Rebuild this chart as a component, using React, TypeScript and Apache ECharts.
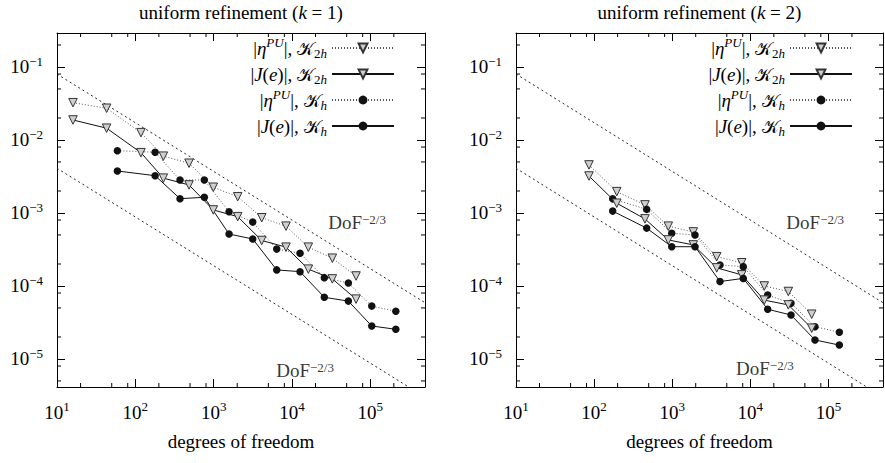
import React, { useEffect, useRef } from 'react';
import * as echarts from 'echarts';

const SERIF = '"Liberation Serif", "Times New Roman", "DejaVu Serif", serif';
const SCRIPT = '"DejaVu Serif", "DejaVu Sans", "Noto Sans", serif';

// ---------- data: left panel, uniform refinement (k = 1) ----------
const k1TriDof = [16, 43, 118, 228, 485, 991, 2030, 4115, 8400, 16200, 32800, 65900];
const k1EtaCoarse = [0.0324, 0.0272, 0.0126, 0.006, 0.0048, 0.00225, 0.00167, 8.6e-4, 6.6e-4, 3.4e-4, 2.4e-4, 1.37e-4];
const k1JCoarse = [0.0188, 0.0145, 0.0067, 0.003, 0.00242, 0.0011, 8.9e-4, 4.2e-4, 3.4e-4, 1.7e-4, 1.25e-4, 6.6e-5];
const k1CircDof = [59, 179, 372, 761, 1574, 3157, 6393, 12690, 25900, 52500, 104500, 212000];
const k1EtaFine = [0.00713, 0.00679, 0.00283, 0.00283, 0.00104, 7.5e-4, 3.2e-4, 2.8e-4, 1.3e-4, 1.1e-4, 5.3e-5, 4.5e-5];
const k1JFine = [0.00376, 0.00324, 0.00157, 0.00164, 5.15e-4, 4.4e-4, 1.66e-4, 1.57e-4, 7.0e-5, 6.2e-5, 2.83e-5, 2.55e-5];

// ---------- data: right panel, uniform refinement (k = 2) ----------
const k2TriDof = [86, 195, 448, 892, 1862, 3715, 7760, 15100, 30700, 61100];
const k2EtaCoarse = [4.55e-3, 1.96e-3, 1.29e-3, 6.6e-4, 5.5e-4, 2.52e-4, 2.08e-4, 1.0e-4, 8.4e-5, 4.1e-5];
const k2JCoarse = [3.21e-3, 1.36e-3, 8.3e-4, 4.27e-4, 3.65e-4, 1.77e-4, 1.42e-4, 6.4e-5, 5.5e-5, 2.64e-5];
const k2CircDof = [173, 471, 986, 1960, 4090, 8130, 16700, 33200, 67300, 138000];
const k2EtaFine = [1.56e-3, 1.12e-3, 5.27e-4, 5.0e-4, 1.94e-4, 1.84e-4, 7.5e-5, 5.8e-5, 2.77e-5, 2.32e-5];
const k2JFine = [1.06e-3, 6.2e-4, 3.45e-4, 3.45e-4, 1.15e-4, 1.27e-4, 4.8e-5, 4.0e-5, 1.82e-5, 1.55e-5];

// reference lines DoF^(-2/3) (end points)
const refDof = [10, 500000];
const refUpper = [0.08, 5.9e-5];
const refLower = [0.0041, 3.0e-6];

// label anchors for the "DoF^-2/3" annotations
const k1UpperLabel = [67800, 7.3e-4];
const k1LowerLabel = [14700, 7.06e-6];
const k2UpperLabel = [67800, 7.3e-4];
const k2LowerLabel = [15400, 7.5e-6];

const panelK = [1, 2];
const seriesKeys = ['eta2h', 'J2h', 'etah', 'Jh'];
const legendTexts: Record<string, string> = {
  eta2h: '{b||}{i|η}{si|PU}{b||, }{k|𝒦}{u|2}{ui|h}',
  J2h: '{b||}{i|J}{b|(}{i|e}{b|)|, }{k|𝒦}{u|2}{ui|h}',
  etah: '{b||}{i|η}{si|PU}{b||, }{k|𝒦}{ui|h}',
  Jh: '{b||}{i|J}{b|(}{i|e}{b|)|, }{k|𝒦}{ui|h}',
};
const minorMultipliers = [2, 5, 8];

const X_MIN = 10;
const X_MAX = 5e5;
const Y_MIN = 4.13e-6;
const Y_MAX = 0.292;

const grids = [
  { left: 57, top: 33, width: 368, height: 354 },
  { left: 516, top: 33, width: 367, height: 354 },
];
const legendRight = [490, 32];

const FS = 19;
const richBase = {
  b: { fontFamily: SERIF, fontSize: FS, lineHeight: 24, color: '#000' },
  i: { fontFamily: SERIF, fontSize: FS, lineHeight: 24, fontStyle: 'italic', color: '#000' },
  s: { fontFamily: SERIF, fontSize: 13, lineHeight: 14, verticalAlign: 'top', color: '#000' },
  si: { fontFamily: SERIF, fontSize: 13, lineHeight: 14, verticalAlign: 'top', fontStyle: 'italic', color: '#000' },
  u: { fontFamily: SERIF, fontSize: 13, lineHeight: 14, verticalAlign: 'bottom', color: '#000' },
  ui: { fontFamily: SERIF, fontSize: 13, lineHeight: 14, verticalAlign: 'bottom', fontStyle: 'italic', color: '#000' },
  k: { fontFamily: SCRIPT, fontSize: FS - 1, lineHeight: 24, color: '#000' },
};

const pow10 = (v: number) => {
  const e = Math.round(Math.log10(v));
  return `{b|10}{s|${e < 0 ? '\u2212' : ''}${Math.abs(e)}}`;
};

function minorValues(lo: number, hi: number) {
  const out: number[] = [];
  for (let d = Math.floor(Math.log10(lo)) - 1; d <= Math.ceil(Math.log10(hi)); d++) {
    for (const m of minorMultipliers) {
      const v = m * Math.pow(10, d);
      if (v > lo && v < hi) out.push(v);
    }
  }
  return out;
}

function buildOption() {
  const xAxis: any[] = [];
  const yAxis: any[] = [];
  const series: any[] = [];
  const legend: any[] = [];
  const title: any[] = [];

  const panels = [
    { triDof: k1TriDof, etaC: k1EtaCoarse, jC: k1JCoarse, circDof: k1CircDof, etaF: k1EtaFine, jF: k1JFine, up: k1UpperLabel, low: k1LowerLabel },
    { triDof: k2TriDof, etaC: k2EtaCoarse, jC: k2JCoarse, circDof: k2CircDof, etaF: k2EtaFine, jF: k2JFine, up: k2UpperLabel, low: k2LowerLabel },
  ];

  panels.forEach((p, gi) => {
    const g = grids[gi];
    const common = {
      type: 'log',
      logBase: 10,
      gridIndex: gi,
      axisLine: { show: true, onZero: false, lineStyle: { color: '#000', width: 1 } },
      axisTick: { show: true, inside: true, length: 8, lineStyle: { color: '#000', width: 1 } },
      minorTick: { show: false },
      splitLine: { show: false },
    };
    xAxis.push({
      ...common,
      position: 'bottom',
      min: X_MIN,
      max: X_MAX,
      axisLabel: { show: true, margin: 13, formatter: pow10, rich: richBase, showMinLabel: true, showMaxLabel: false },
      name: 'degrees of freedom',
      nameLocation: 'middle',
      nameGap: 45,
      nameTextStyle: { fontFamily: SERIF, fontSize: FS, color: '#000' },
    });
    xAxis.push({ ...common, position: 'top', min: X_MIN, max: X_MAX, axisLabel: { show: false } });
    yAxis.push({
      ...common,
      position: 'left',
      min: Y_MIN,
      max: Y_MAX,
      axisLabel: { show: true, margin: 14, formatter: pow10, rich: richBase, showMinLabel: false, showMaxLabel: false },
    });
    yAxis.push({ ...common, position: 'right', min: Y_MIN, max: Y_MAX, axisLabel: { show: false } });

    const xi = gi * 2;
    const yi = gi * 2;
    const names = seriesKeys.map((k) => `${k}_${gi}`);

    const mk = (name: string, dof: number[], vals: number[], tri: boolean, dotted: boolean, z: number) => ({
      type: 'line',
      name,
      xAxisIndex: xi,
      yAxisIndex: yi,
      data: dof.map((d, i) => [d, vals[i]]),
      symbol: tri ? 'triangle' : 'circle',
      symbolRotate: tri ? 180 : 0,
      symbolSize: tri ? 8.5 : 7.5,
      showSymbol: true,
      lineStyle: dotted ? { color: '#555', width: 1, type: [1, 2] } : { color: '#111', width: 1, type: 'solid' },
      itemStyle: tri
        ? { color: '#cfcfcf', borderColor: '#333', borderWidth: 1 }
        : { color: '#111', borderColor: '#111', borderWidth: 0 },
      z,
      silent: true,
      emphasis: { disabled: true },
    });

    series.push(mk(names[0], p.triDof, p.etaC, true, true, 3));
    series.push(mk(names[1], p.triDof, p.jC, true, false, 4));
    series.push(mk(names[2], p.circDof, p.etaF, false, true, 3));
    series.push(mk(names[3], p.circDof, p.jF, false, false, 4));

    [refUpper, refLower].forEach((ref) => {
      series.push({
        type: 'line',
        xAxisIndex: xi,
        yAxisIndex: yi,
        data: refDof.map((d, i) => [d, ref[i]]),
        symbol: 'none',
        lineStyle: { color: '#222', width: 1, type: [2, 3] },
        z: 2,
        silent: true,
        clip: true,
      });
    });

    series.push({
      type: 'scatter',
      xAxisIndex: xi,
      yAxisIndex: yi,
      data: [p.up, p.low],
      symbol: 'circle',
      symbolSize: 0.1,
      itemStyle: { color: 'rgba(0,0,0,0)' },
      silent: true,
      label: {
        show: true,
        position: 'inside',
        color: '#000',
        formatter: 'DoF{s|\u22122/3}',
        fontFamily: SERIF,
        fontSize: FS,
        rich: richBase,
      },
      z: 5,
    });

    const tickData: number[][] = [];
    minorValues(X_MIN, X_MAX).forEach((v) => tickData.push([v, 1e-3, 0]));
    minorValues(Y_MIN, Y_MAX).forEach((v) => tickData.push([1000, v, 1]));
    series.push({
      type: 'custom',
      xAxisIndex: xi,
      yAxisIndex: yi,
      data: tickData,
      silent: true,
      clip: false,
      z: 6,
      renderItem: (params: any, api: any) => {
        const cs = params.coordSys;
        const pt = api.coord([api.value(0), api.value(1)]);
        const L = 4;
        const st = { stroke: '#000', lineWidth: 1 };
        if (api.value(2) === 0) {
          return {
            type: 'group',
            children: [
              { type: 'line', shape: { x1: pt[0], y1: cs.y + cs.height, x2: pt[0], y2: cs.y + cs.height - L }, style: st },
              { type: 'line', shape: { x1: pt[0], y1: cs.y, x2: pt[0], y2: cs.y + L }, style: st },
            ],
          };
        }
        return {
          type: 'group',
          children: [
            { type: 'line', shape: { x1: cs.x, y1: pt[1], x2: cs.x + L, y2: pt[1] }, style: st },
            { type: 'line', shape: { x1: cs.x + cs.width, y1: pt[1], x2: cs.x + cs.width - L, y2: pt[1] }, style: st },
          ],
        };
      },
    });

    legend.push({
      show: true,
      orient: 'vertical',
      align: 'right',
      right: legendRight[gi],
      top: 36,
      padding: 0,
      itemWidth: 62,
      itemHeight: 11,
      itemGap: 2,
      selectedMode: false,
      data: names,
      formatter: (name: string) => legendTexts[name.split('_')[0]],
      textStyle: { fontFamily: SERIF, fontSize: FS, lineHeight: 24, color: '#000', rich: richBase },
    });

    title.push({
      text: `uniform refinement ({ti|k} = ${panelK[gi]})`,
      left: g.left + g.width / 2,
      top: 1,
      textAlign: 'center',
      padding: 0,
      textStyle: {
        fontFamily: SERIF,
        fontSize: FS,
        fontWeight: 'normal',
        color: '#000',
        lineHeight: 22,
        rich: { ti: { fontFamily: SERIF, fontSize: FS, fontStyle: 'italic', color: '#000', lineHeight: 22 } },
      },
    });
  });

  return {
    animation: false,
    backgroundColor: '#fff',
    title,
    legend,
    grid: grids.map((g) => ({ ...g, containLabel: false, outerBoundsMode: 'none', show: false })),
    xAxis,
    yAxis,
    series,
  };
}

export default function App() {
  const ref = useRef<HTMLDivElement>(null);
  useEffect(() => {
    if (!ref.current) return;
    const chart = echarts.init(ref.current, undefined, { renderer: 'svg' });
    chart.setOption(buildOption() as any);
    return () => chart.dispose();
  }, []);
  return (
    <div
      ref={ref}
      style={{ position: 'absolute', left: 0, top: 0, width: 885, height: 463, background: '#fff' }}
    />
  );
}
